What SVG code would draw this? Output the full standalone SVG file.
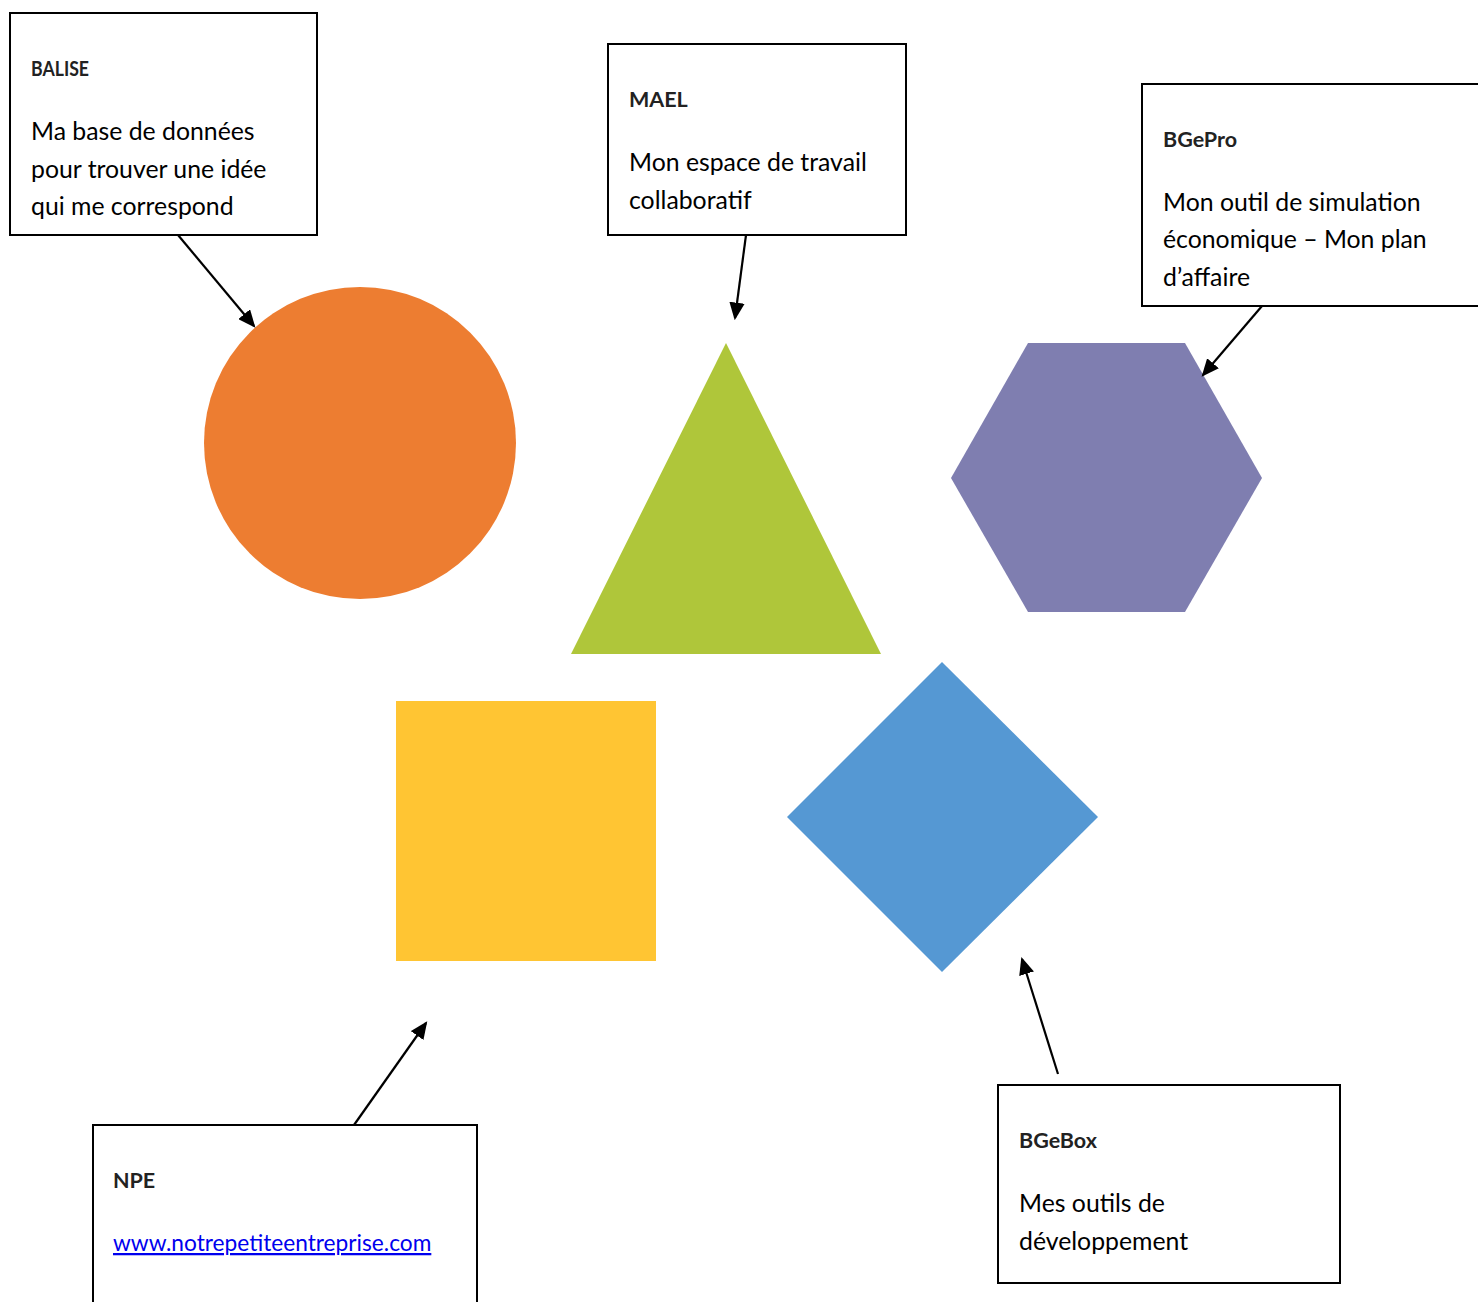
<svg xmlns="http://www.w3.org/2000/svg" width="1478" height="1302" viewBox="0 0 1478 1302">
<defs>
<marker id="ah" markerWidth="8" markerHeight="7" refX="7" refY="3.5" orient="auto" markerUnits="strokeWidth">
<path d="M0,0 L8,3.5 L0,7 Z" fill="#000"/>
</marker>
<style>
.box{fill:#fff;stroke:#000;stroke-width:2}
.t{font-family:Lato,"Open Sans",sans-serif;font-size:24.8px;fill:#000}
.b{font-family:Lato,"Open Sans",sans-serif;font-size:21.5px;font-weight:bold;fill:#222}
.link{fill:#0000EE;text-decoration:underline;font-size:22.7px}
.c{stroke:#000;stroke-width:2.2;fill:none;marker-end:url(#ah)}
</style>
</defs>
<rect width="1478" height="1302" fill="#fff"/>
<g id="shapes">
<circle id="circle" cx="360" cy="443" r="156" fill="#ED7D31"/>
<polygon id="triangle" points="726,343 881,654 571,654" fill="#AFC63A"/>
<polygon id="hexagon" points="1028,343 1185,343 1262,478 1185,612 1028,612 951,478" fill="#7F7EB0"/>
<rect id="square" x="396" y="701" width="260" height="260" fill="#FFC533"/>
<polygon id="diamond" points="942,662 1098,817 942,972 787,817" fill="#5598D3"/>
</g>
<g id="balise">
<rect class="box" x="10" y="13" width="307" height="222"/>
<text class="b" x="31" y="76" textLength="58" lengthAdjust="spacingAndGlyphs">BALISE</text>
<text class="t" x="31" y="140">Ma base de données</text>
<text class="t" x="31" y="178">pour trouver une idée</text>
<text class="t" x="31" y="215">qui me correspond</text>
</g>
<g id="mael">
<rect class="box" x="608" y="44" width="298" height="191"/>
<text class="b" x="629" y="107">MAEL</text>
<text class="t" x="629" y="171">Mon espace de travail</text>
<text class="t" x="629" y="209">collaboratif</text>
</g>
<g id="bgepro">
<rect class="box" x="1142" y="84" width="340" height="222"/>
<text class="b" x="1163" y="147">BGePro</text>
<text class="t" x="1163" y="211">Mon outil de simulation</text>
<text class="t" x="1163" y="248">économique – Mon plan</text>
<text class="t" x="1163" y="286">d’affaire</text>
</g>
<g id="npe">
<rect class="box" x="93" y="1125" width="384" height="190"/>
<text class="b" x="113" y="1188">NPE</text>
<text class="t link" x="113" y="1251">www.notrepetiteentreprise.com</text>
</g>
<g id="bgebox">
<rect class="box" x="998" y="1085" width="342" height="198"/>
<text class="b" x="1019" y="1148">BGeBox</text>
<text class="t" x="1019" y="1212">Mes outils de</text>
<text class="t" x="1019" y="1250">développement</text>
</g>
<g id="connectors">
<line class="c" x1="178" y1="235" x2="254" y2="326"/>
<line class="c" x1="746" y1="235" x2="735" y2="318"/>
<line class="c" x1="1262" y1="306" x2="1203" y2="375"/>
<line class="c" x1="354" y1="1125" x2="426" y2="1023"/>
<line class="c" x1="1058" y1="1074" x2="1022" y2="959"/>
</g>
</svg>
